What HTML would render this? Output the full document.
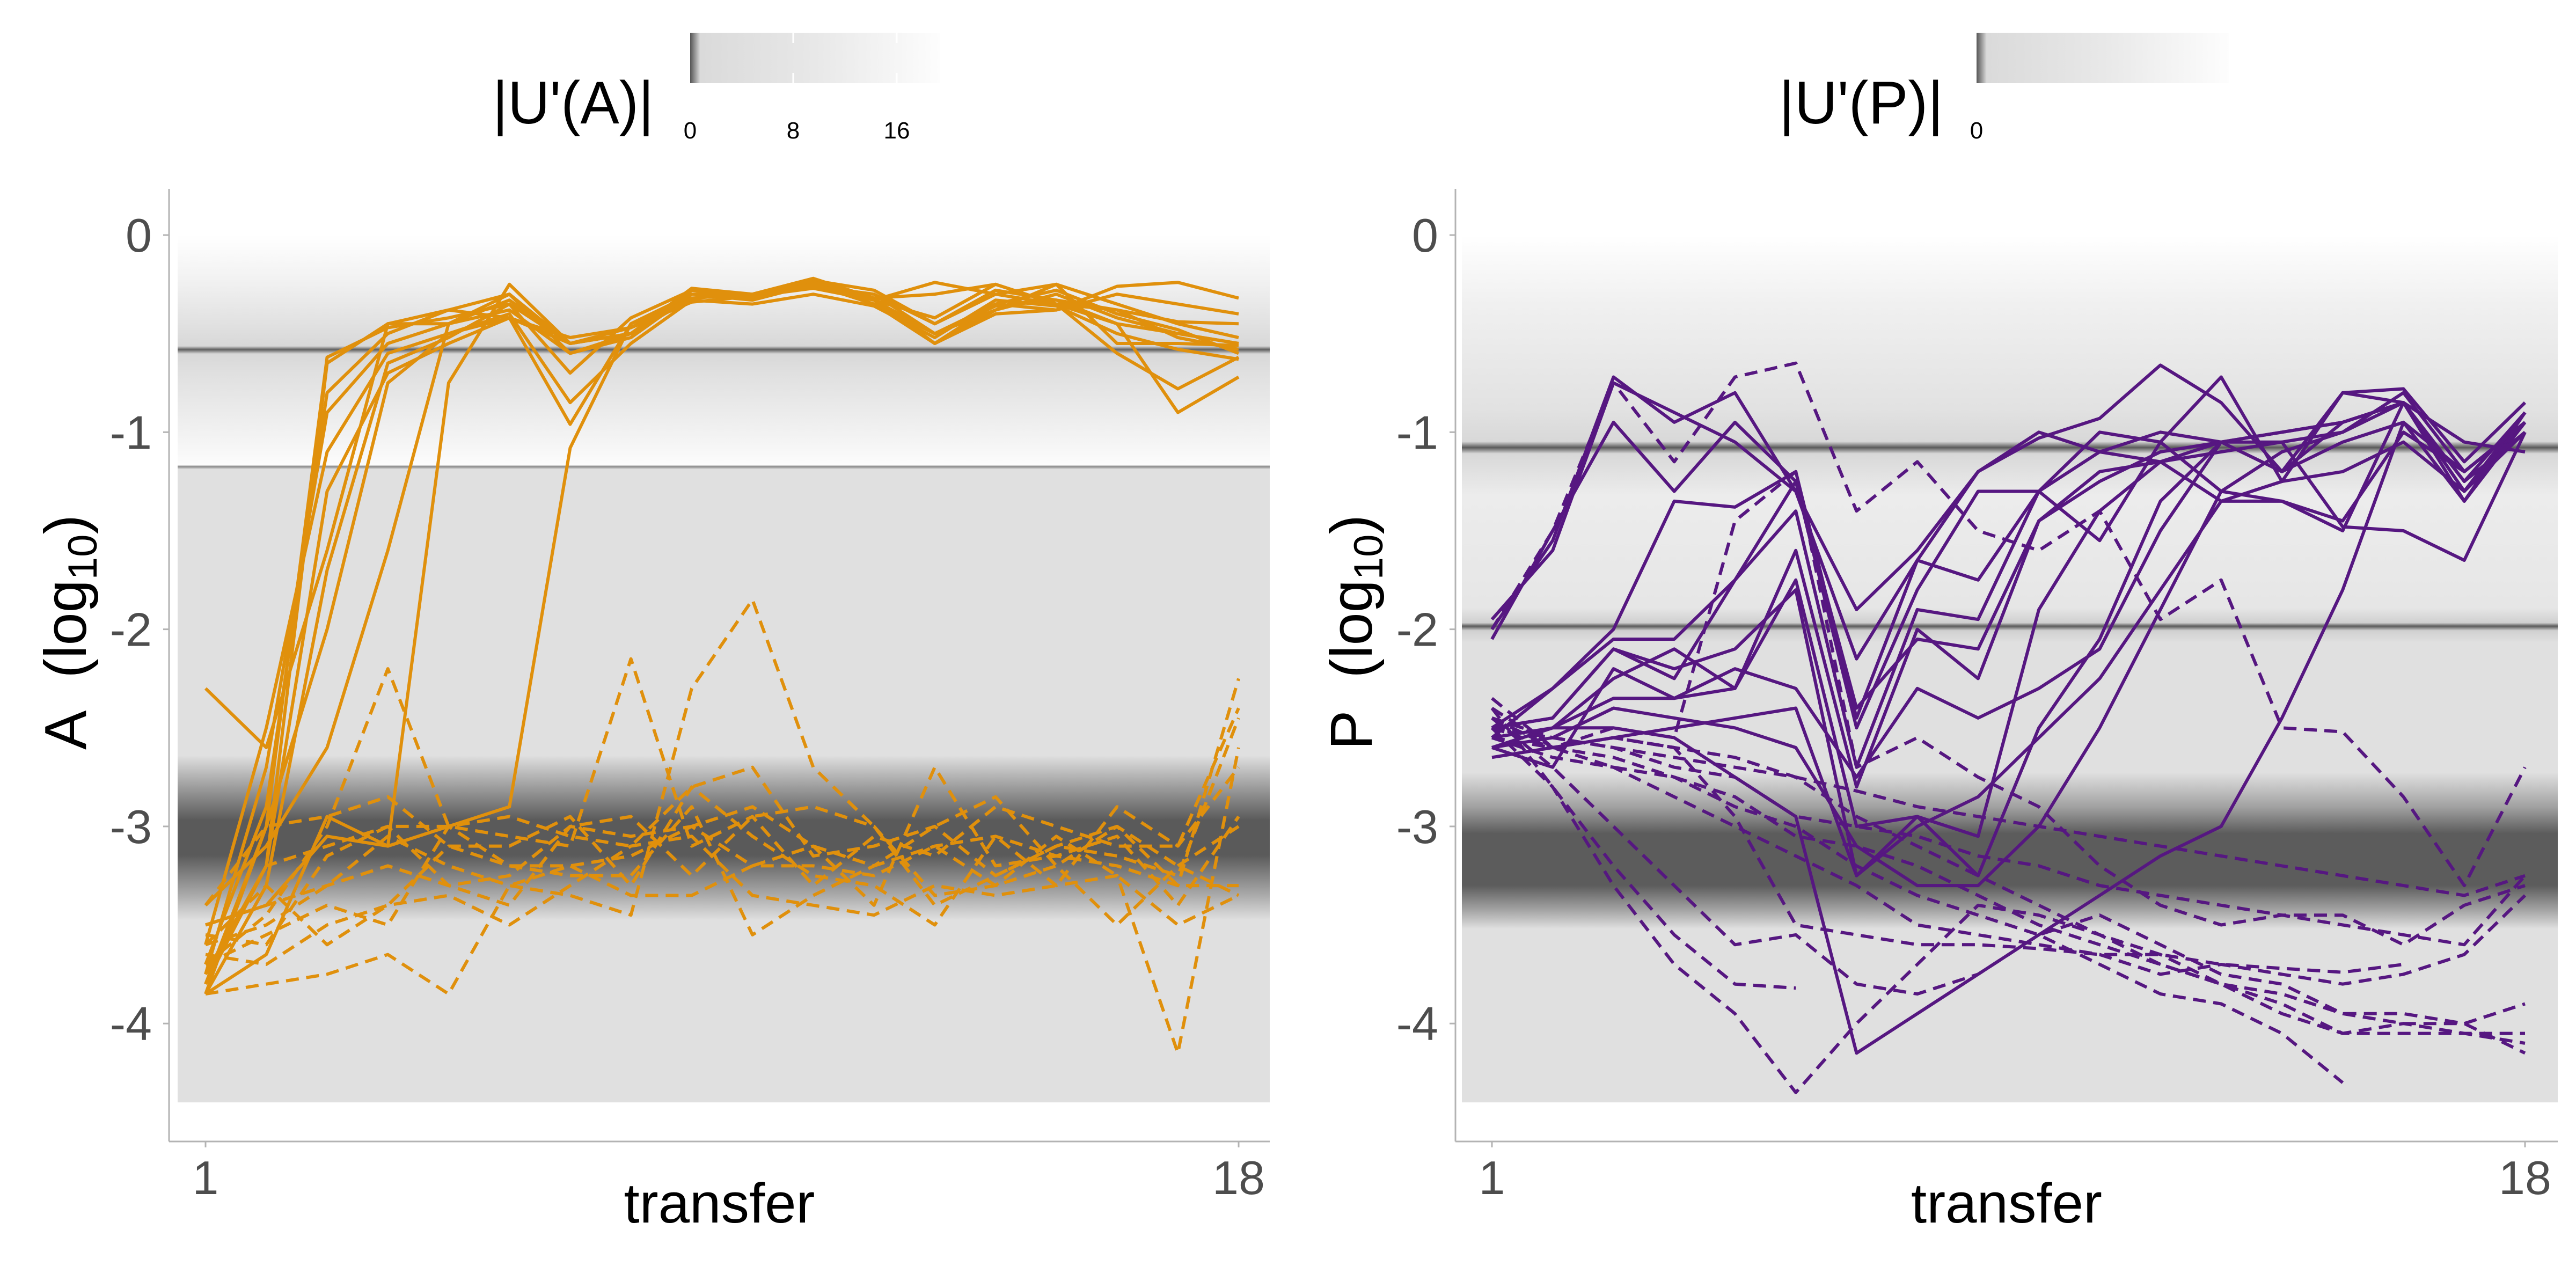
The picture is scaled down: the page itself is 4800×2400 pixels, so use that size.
<!DOCTYPE html>
<html><head><meta charset="utf-8">
<style>
html,body{margin:0;padding:0;background:#fff;}
svg{display:block;font-family:"Liberation Sans",sans-serif;}
</style></head>
<body>
<svg id="chart" width="4800" height="2400" viewBox="0 0 4800 2400" xmlns="http://www.w3.org/2000/svg">
<defs>
<linearGradient id="bgA" gradientUnits="userSpaceOnUse" x1="0" y1="438" x2="0" y2="2054">
<stop offset="0" stop-color="#ffffff"/>
<stop offset="0.05" stop-color="#f2f2f2"/>
<stop offset="0.1" stop-color="#e2e2e2"/>
<stop offset="0.128" stop-color="#d8d8d8"/>
<stop offset="0.132" stop-color="#606060"/>
<stop offset="0.137" stop-color="#d8d8d8"/>
<stop offset="0.16" stop-color="#e0e0e0"/>
<stop offset="0.245" stop-color="#f6f6f6"/>
<stop offset="0.265" stop-color="#fcfcfc"/>
<stop offset="0.267" stop-color="#888"/>
<stop offset="0.27" stop-color="#e0e0e0"/>
<stop offset="0.6" stop-color="#e0e0e0"/>
<stop offset="0.635" stop-color="#a0a0a0"/>
<stop offset="0.675" stop-color="#5a5a5a"/>
<stop offset="0.715" stop-color="#5a5a5a"/>
<stop offset="0.76" stop-color="#a8a8a8"/>
<stop offset="0.79" stop-color="#e0e0e0"/>
<stop offset="1" stop-color="#e0e0e0"/>
</linearGradient>
<linearGradient id="bgP" gradientUnits="userSpaceOnUse" x1="0" y1="438" x2="0" y2="2054">
<stop offset="0" stop-color="#ffffff"/>
<stop offset="0.08" stop-color="#f0f0f0"/>
<stop offset="0.2" stop-color="#e2e2e2"/>
<stop offset="0.238" stop-color="#d8d8d8"/>
<stop offset="0.245" stop-color="#5a5a5a"/>
<stop offset="0.252" stop-color="#d8d8d8"/>
<stop offset="0.3" stop-color="#ececec"/>
<stop offset="0.43" stop-color="#e6e6e6"/>
<stop offset="0.447" stop-color="#d0d0d0"/>
<stop offset="0.451" stop-color="#5a5a5a"/>
<stop offset="0.456" stop-color="#d0d0d0"/>
<stop offset="0.47" stop-color="#e0e0e0"/>
<stop offset="0.62" stop-color="#e0e0e0"/>
<stop offset="0.66" stop-color="#a0a0a0"/>
<stop offset="0.69" stop-color="#5c5c5c"/>
<stop offset="0.75" stop-color="#5c5c5c"/>
<stop offset="0.78" stop-color="#a8a8a8"/>
<stop offset="0.8" stop-color="#e0e0e0"/>
<stop offset="1" stop-color="#e0e0e0"/>
</linearGradient>
<linearGradient id="cbar" x1="0" y1="0" x2="1" y2="0">
<stop offset="0" stop-color="#555"/>
<stop offset="0.04" stop-color="#dadada"/>
<stop offset="0.5" stop-color="#e8e8e8"/>
<stop offset="1" stop-color="#fdfdfd"/>
</linearGradient>
</defs>

<g>
<text x="918" y="230" font-size="112" fill="#000" textLength="300" lengthAdjust="spacingAndGlyphs">|U'(A)|</text>
<rect x="1286" y="61" width="465" height="94" fill="url(#cbar)"/>
<line x1="1478" y1="61" x2="1478" y2="80" stroke="#fff" stroke-width="3"/>
<line x1="1478" y1="136" x2="1478" y2="155" stroke="#fff" stroke-width="3"/>
<line x1="1671" y1="61" x2="1671" y2="80" stroke="#fff" stroke-width="3"/>
<line x1="1671" y1="136" x2="1671" y2="155" stroke="#fff" stroke-width="3"/>
<text x="1286" y="258" font-size="44" text-anchor="middle">0</text>
<text x="1478" y="258" font-size="44" text-anchor="middle">8</text>
<text x="1671" y="258" font-size="44" text-anchor="middle">16</text>
</g>
<g>
<text x="3315" y="230" font-size="112" fill="#000" textLength="306" lengthAdjust="spacingAndGlyphs">|U'(P)|</text>
<rect x="3683" y="61" width="471" height="94" fill="url(#cbar)"/>
<text x="3683" y="258" font-size="44" text-anchor="middle">0</text>
</g>

<g id="panelA"></g>
<g id="panelP"></g>
</svg>
<script>
const tickValues = [0,-1,-2,-3,-4];
const tickLabels = ["0","-1","-2","-3","-4"];
const xTickValues = [1,18];
const xTickLabels = ["1","18"];

const aSolid1 = [-3.8,-3.0,-0.62,-0.47,-0.42,-0.35,-0.55,-0.47,-0.3,-0.32,-0.25,-0.35,-0.55,-0.38,-0.3,-0.42,-0.5,-0.55];
const aSolid2 = [-3.7,-2.9,-0.8,-0.5,-0.38,-0.3,-0.6,-0.5,-0.27,-0.3,-0.22,-0.33,-0.55,-0.35,-0.28,-0.4,-0.48,-0.6];
const aSolid3 = [-3.75,-2.7,-0.9,-0.55,-0.45,-0.38,-0.6,-0.52,-0.3,-0.3,-0.26,-0.3,-0.45,-0.3,-0.25,-0.35,-0.45,-0.52];
const aSolid4 = [-3.6,-2.5,-1.1,-0.6,-0.5,-0.4,-0.85,-0.55,-0.33,-0.35,-0.3,-0.36,-0.52,-0.33,-0.36,-0.5,-0.58,-0.63];
const aSolid5 = [-3.8,-3.2,-1.3,-0.7,-0.55,-0.42,-0.96,-0.45,-0.3,-0.3,-0.23,-0.28,-0.45,-0.28,-0.33,-0.38,-0.44,-0.45];
const aSolid6 = [-3.85,-3.3,-1.7,-0.65,-0.52,-0.35,-0.7,-0.42,-0.28,-0.32,-0.24,-0.32,-0.55,-0.4,-0.38,-0.26,-0.24,-0.32];
const aSolid7 = [-3.85,-3.0,-2.0,-0.75,-0.5,-0.42,-0.52,-0.47,-0.34,-0.31,-0.27,-0.33,-0.5,-0.36,-0.33,-0.45,-0.9,-0.72];
const aSolid8 = [-2.3,-2.6,-1.6,-0.45,-0.45,-0.33,-0.55,-0.5,-0.32,-0.3,-0.25,-0.33,-0.42,-0.25,-0.35,-0.6,-0.78,-0.62];
const aSolid9 = [-3.4,-3.1,-2.6,-1.6,-0.45,-0.3,-0.55,-0.5,-0.3,-0.3,-0.25,-0.33,-0.24,-0.3,-0.35,-0.45,-0.5,-0.55];
const aSolid10 = [-3.5,-3.4,-3.05,-3.1,-0.75,-0.25,-0.55,-0.5,-0.3,-0.3,-0.22,-0.32,-0.3,-0.25,-0.35,-0.38,-0.52,-0.58];
const aSolid11 = [-3.85,-3.65,-2.95,-3.1,-3.0,-2.9,-1.08,-0.45,-0.3,-0.33,-0.25,-0.35,-0.5,-0.38,-0.25,-0.55,-0.55,-0.56];
const aSolid12 = [-3.75,-3.2,-0.65,-0.45,-0.38,-0.42,-0.55,-0.5,-0.28,-0.3,-0.26,-0.3,-0.5,-0.35,-0.38,-0.3,-0.35,-0.4];

const aDash1 = [-3.85,-3.8,-3.75,-3.65,-3.85,-3.3,-3.2,-3.15,-3.0,-2.9,-3.1,-3.2,-3.1,-3.05,-3.15,-3.2,-3.3,-2.25];
const aDash2 = [-3.7,-3.45,-3.0,-2.2,-3.0,-3.05,-3.1,-2.15,-3.1,-2.95,-3.3,-3.05,-3.15,-2.9,-3.0,-3.1,-3.1,-2.4];
const aDash3 = [-3.6,-3.5,-3.3,-3.05,-3.2,-3.3,-3.35,-3.45,-2.3,-1.85,-2.7,-3.0,-3.4,-3.25,-3.1,-3.0,-3.3,-3.3];
const aDash4 = [-3.5,-3.4,-3.3,-3.2,-3.3,-3.25,-3.0,-3.05,-3.0,-3.2,-3.1,-3.4,-2.7,-3.2,-3.15,-3.05,-3.4,-2.95];
const aDash5 = [-3.6,-3.3,-3.6,-3.4,-3.1,-3.1,-2.95,-3.3,-2.8,-3.05,-3.25,-3.3,-3.5,-3.05,-3.3,-3.25,-4.15,-2.6];
const aDash6 = [-3.7,-3.55,-3.4,-3.5,-3.0,-3.2,-3.25,-3.25,-2.9,-3.55,-3.35,-3.2,-3.0,-2.85,-3.2,-3.5,-3.2,-3.0];
const aDash7 = [-3.65,-3.7,-3.5,-3.4,-3.35,-3.5,-3.3,-3.1,-3.05,-3.35,-3.4,-3.45,-3.3,-3.35,-3.3,-2.9,-3.1,-2.7];
const aDash8 = [-3.75,-3.2,-3.1,-3.0,-3.3,-3.4,-3.0,-2.95,-3.25,-2.95,-2.9,-3.0,-3.35,-3.3,-3.2,-3.0,-3.2,-3.35];
const aDash9 = [-3.55,-3.6,-3.15,-3.0,-3.0,-2.95,-3.05,-3.1,-2.8,-2.7,-3.15,-3.1,-3.0,-3.25,-3.1,-3.15,-3.25,-2.45];
const aDash10 = [-3.4,-3.0,-2.95,-2.85,-3.1,-3.2,-3.2,-3.35,-3.35,-3.2,-3.2,-3.25,-3.1,-3.3,-3.05,-3.25,-3.5,-3.35];

const pSolid1 = [-2.0,-1.55,-0.72,-0.95,-0.8,-1.3,-2.15,-1.65,-1.2,-1.03,-0.93,-0.66,-0.85,-1.2,-0.8,-0.78,-1.15,-0.85];
const pSolid2 = [-1.95,-1.6,-0.75,-0.9,-1.05,-1.3,-1.9,-1.6,-1.2,-1.0,-1.1,-1.0,-1.05,-1.2,-0.95,-0.85,-1.05,-1.1];
const pSolid3 = [-2.05,-1.5,-0.95,-1.3,-0.95,-1.25,-2.5,-1.8,-1.3,-1.3,-1.0,-1.05,-0.72,-1.25,-0.8,-0.85,-1.25,-0.9];
const pSolid4 = [-2.5,-2.3,-2.0,-1.35,-1.38,-1.2,-2.45,-1.65,-1.75,-1.3,-1.55,-1.05,-1.3,-1.35,-1.5,-0.85,-1.35,-0.9];
const pSolid5 = [-2.55,-2.3,-2.05,-2.05,-1.75,-1.25,-2.4,-2.05,-2.1,-1.45,-1.25,-1.1,-1.05,-1.0,-0.95,-0.85,-1.3,-0.95];
const pSolid6 = [-2.5,-2.45,-2.1,-2.25,-1.75,-1.4,-2.7,-1.9,-1.95,-1.3,-1.1,-1.15,-1.05,-1.05,-1.48,-1.5,-1.65,-1.0];
const pSolid7 = [-2.6,-2.5,-2.25,-2.1,-2.3,-1.6,-2.8,-2.0,-2.25,-1.45,-1.2,-1.15,-1.35,-1.35,-1.45,-1.0,-1.2,-0.95];
const pSolid8 = [-2.55,-2.5,-2.35,-2.35,-2.3,-1.75,-3.0,-2.95,-3.05,-1.9,-1.4,-1.15,-1.1,-1.05,-1.0,-0.85,-1.3,-0.9];
const pSolid9 = [-2.6,-2.7,-2.2,-2.35,-2.2,-2.3,-2.75,-2.3,-2.45,-2.3,-2.1,-1.5,-1.05,-1.2,-1.05,-0.95,-1.35,-0.95];
const pSolid10 = [-2.65,-2.6,-2.55,-2.5,-2.45,-2.4,-3.25,-3.0,-2.85,-2.55,-2.25,-1.8,-1.35,-1.25,-1.2,-1.05,-1.3,-1.0];
const pSolid11 = [-2.6,-2.55,-2.4,-2.45,-2.5,-2.6,-3.1,-3.3,-3.3,-3.0,-2.5,-1.9,-1.3,-1.1,-1.0,-0.8,-1.2,-0.95];
const pSolid12 = [-2.6,-2.5,-2.5,-2.55,-2.75,-2.95,-4.15,-3.95,-3.75,-3.55,-3.35,-3.15,-3.0,-2.45,-1.8,-0.95,-1.2,-0.95];
const pSolid13 = [-2.5,-2.45,-2.1,-2.2,-2.1,-1.8,-3.25,-2.95,-3.25,-2.5,-2.05,-1.35,-1.05,-1.0,-0.95,-0.85,-1.25,-1.0];

const pDash1 = [-2.0,-1.5,-0.75,-1.15,-0.72,-0.65,-1.4,-1.15,-1.5,-1.6,-1.4,-1.95,-1.75,-2.5,-2.52,-2.85,-3.3,-2.7];
const pDash2 = [-2.4,-2.6,-2.5,-2.55,-1.45,-1.2,-2.7,-2.55,-2.75,-2.9,-3.2,-3.4,-3.5,-3.45,-3.45,-3.6,-3.4,-3.3];
const pDash3 = [-2.35,-2.6,-2.7,-2.75,-2.85,-3.05,-3.1,-3.2,-3.35,-3.5,-3.6,-3.7,-3.8,-3.85,-3.95,-4.0,-4.0,-3.9];
const pDash4 = [-2.45,-2.7,-3.0,-3.3,-3.6,-3.55,-3.8,-3.85,-3.75,-3.55,-3.45,-3.6,-3.75,-3.8,-3.95,-3.95,-4.0,-4.15];
const pDash5 = [-2.5,-2.8,-3.3,-3.7,-3.95,-4.35,-4.0,-3.7,-3.4,-3.45,-3.55,-3.65,-3.8,-3.95,-4.05,-4.05,-4.05,-4.05];
const pDash6 = [-2.55,-2.65,-2.7,-2.85,-3.0,-3.15,-3.3,-3.5,-3.55,-3.6,-3.65,-3.75,-3.7,-3.75,-3.8,-3.75,-3.65,-3.35];
const pDash7 = [-2.45,-2.55,-2.6,-2.7,-2.75,-2.95,-3.0,-3.05,-3.15,-3.2,-3.3,-3.35,-3.4,-3.45,-3.5,-3.55,-3.6,-3.25];
const pDash8 = [-2.5,-2.55,-2.6,-2.65,-2.7,-2.75,-2.82,-2.9,-2.95,-3.0,-3.05,-3.1,-3.15,-3.2,-3.25,-3.3,-3.35,-3.25];
const pDash9 = [-2.4,-2.8,-3.2,-3.55,-3.8,-3.82,null,null,null,null,null,null,null,null,null,null,null,null];
const pDash10 = [-2.5,-2.6,-2.55,-2.6,-2.95,-3.5,-3.55,-3.6,-3.6,-3.62,-3.65,-3.65,-3.7,-3.72,-3.74,-3.7,null,null];
const pDash11 = [-2.55,-2.6,-2.65,-2.75,-2.9,-3.0,-3.2,-3.35,-3.45,-3.55,-3.7,-3.85,-3.9,-4.05,-4.3,null,null,null];
const pDash12 = [-2.45,-2.6,-2.55,-2.6,-2.65,-2.75,-2.95,-3.1,-3.25,-3.4,-3.55,-3.7,-3.8,-3.9,-4.05,-4.0,-4.05,-4.1];

const NS = "http://www.w3.org/2000/svg";
function mk(tag, attrs, parent){const e=document.createElementNS(NS,tag);for(const k in attrs)e.setAttribute(k,attrs[k]);parent.appendChild(e);return e;}

function drawPanel(g, cfg){
  const yScale = v => cfg.y0 + (-v)*cfg.unit;
  const xScale = t => cfg.x1 + (t-1)*(cfg.x18-cfg.x1)/17;
  const bg = mk('rect',{x:cfg.bgL,y:yScale(0),width:cfg.bgR-cfg.bgL,height:yScale(-4.4)-yScale(0),fill:cfg.grad},g);
  
  
  const yax = mk('line',{x1:cfg.axX,y1:352,x2:cfg.axX,y2:2127,stroke:'#b3b3b3','stroke-width':3},g);
  
  
  const xax = mk('line',{x1:cfg.axX,y1:2127,x2:cfg.bgR,y2:2127,stroke:'#b3b3b3','stroke-width':3},g);
  
  
  tickValues.forEach((v,i)=>{
    const y=yScale(v);
    mk('line',{x1:cfg.axX-11,y1:y,x2:cfg.axX,y2:y,stroke:'#b3b3b3','stroke-width':3},g);
    const t=mk('text',{x:cfg.axX-32,y:y+31,'font-size':88,'text-anchor':'end',fill:'#4d4d4d'},g);
    t.textContent=tickLabels[i];
    
    
  });
  xTickValues.forEach((v,i)=>{
    const x=xScale(v);
    mk('line',{x1:x,y1:2127,x2:x,y2:2138,stroke:'#b3b3b3','stroke-width':3},g);
    const t=mk('text',{x:x,y:2225,'font-size':88,'text-anchor':'middle',fill:'#4d4d4d'},g);
    t.textContent=xTickLabels[i];
    
    
  });
  const xt=mk('text',{x:(cfg.axX+cfg.bgR)/2,y:2278,'font-size':105,'text-anchor':'middle',fill:'#000'},g);
  xt.textContent='transfer';
  
  
  const yt=mk('text',{x:0,y:0,'font-size':110,'text-anchor':'middle',fill:'#000',transform:`translate(${cfg.ytX},1178) rotate(-90)`},g);
  yt.innerHTML = cfg.letter+'<tspan dx="60">(log</tspan><tspan font-size="76" dy="20">10</tspan><tspan dy="-20">)</tspan>';
  
  
  const draw=(arr,dashed,idx)=>{
    let d='',pen=false;
    arr.forEach((v,i)=>{ if(v===null){pen=false;return;} d+=(pen?'L':'M')+xScale(i+1).toFixed(1)+' '+yScale(v).toFixed(1)+' '; pen=true;});
    const p=mk('path',{d:d,fill:'none',stroke:cfg.color,'stroke-width':6,'stroke-linejoin':'round'},g);
    if(dashed) p.setAttribute('stroke-dasharray','24 14');
    
    
  };
  cfg.solid.forEach((a,i)=>draw(a,false,i+1));
  cfg.dashed.forEach((a,i)=>draw(a,true,i+1));
}

drawPanel(document.getElementById('panelA'),{name:'panel-a',letter:'A',y0:438,unit:367.3,x1:383,x18:2308,bgL:331,bgR:2366,axX:315,ytX:160,grad:'url(#bgA)',color:'#E0900C',
  solid:[aSolid1,aSolid2,aSolid3,aSolid4,aSolid5,aSolid6,aSolid7,aSolid8,aSolid9,aSolid10,aSolid11,aSolid12],
  dashed:[aDash1,aDash2,aDash3,aDash4,aDash5,aDash6,aDash7,aDash8,aDash9,aDash10]});
drawPanel(document.getElementById('panelP'),{name:'panel-p',letter:'P',y0:438,unit:367.3,x1:2780,x18:4705,bgL:2724,bgR:4766,axX:2712,ytX:2556,grad:'url(#bgP)',color:'#561781',
  solid:[pSolid1,pSolid2,pSolid3,pSolid4,pSolid5,pSolid6,pSolid7,pSolid8,pSolid9,pSolid10,pSolid11,pSolid12,pSolid13],
  dashed:[pDash1,pDash2,pDash3,pDash4,pDash5,pDash6,pDash7,pDash8,pDash9,pDash10,pDash11,pDash12]});
</script>
</body></html>
